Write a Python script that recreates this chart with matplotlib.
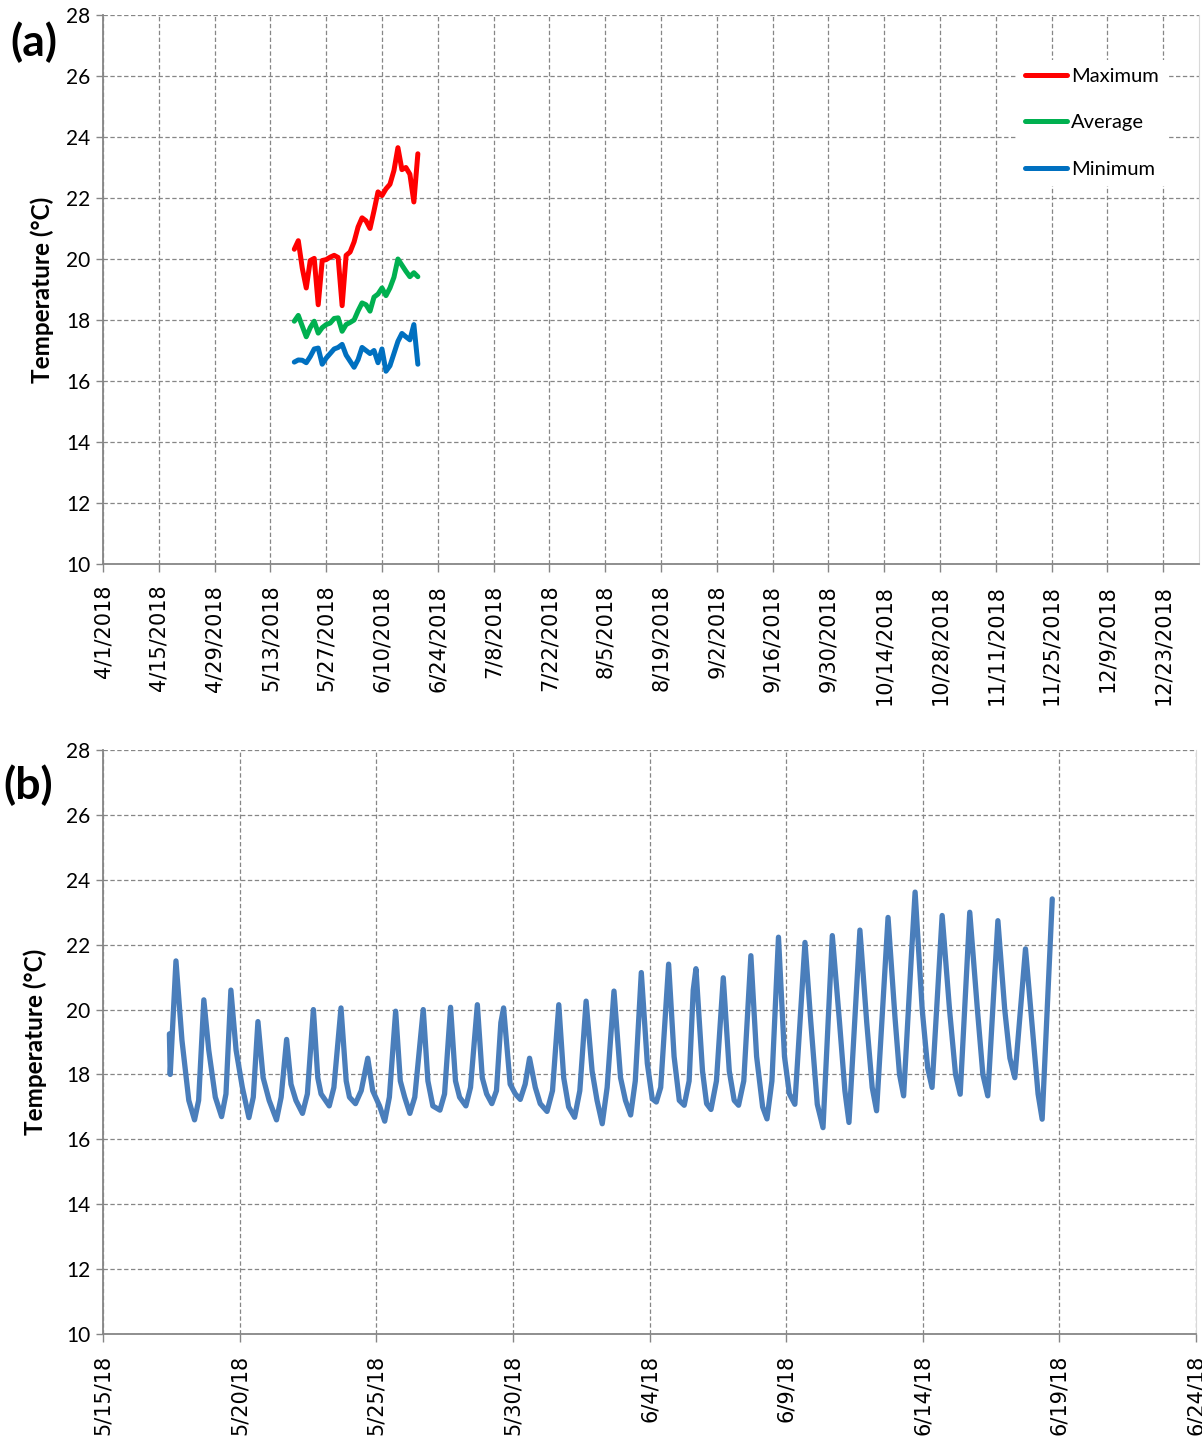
import numpy as np
import pandas as pd
import matplotlib
matplotlib.use('Agg')
import matplotlib.pyplot as plt

#%% data - panel (a): daily statistics 5/19/2018 .. 6/19/2018
daily_start = '2018-05-19'
t_max = [20.32, 20.6, 19.7, 19.05, 19.95, 20.02, 18.5, 19.95, 19.98, 20.06, 20.12,
         20.05, 18.47, 20.12, 20.23, 20.56, 21.05, 21.35, 21.25, 21.0, 21.58, 22.2,
         22.08, 22.3, 22.45, 22.9, 23.65, 22.93, 23.0, 22.78, 21.87, 23.45]
t_avg = [17.96, 18.15, 17.8, 17.45, 17.75, 17.96, 17.57, 17.75, 17.85, 17.9, 18.05,
         18.07, 17.63, 17.85, 17.92, 18.0, 18.3, 18.56, 18.5, 18.29, 18.75, 18.85,
         19.05, 18.8, 19.05, 19.4, 20.0, 19.8, 19.6, 19.42, 19.55, 19.42]
t_min = [16.62, 16.69, 16.68, 16.6, 16.8, 17.05, 17.08, 16.55, 16.75, 16.9, 17.05,
         17.1, 17.2, 16.85, 16.65, 16.45, 16.7, 17.1, 17.0, 16.9, 17.0, 16.6, 17.05,
         16.32, 16.5, 16.9, 17.3, 17.56, 17.45, 17.35, 17.85, 16.55]

#%% data - panel (b): logged temperature, time in days after 5/15/2018 00:00
log_start = '2018-05-15'
log_day = [2.43, 2.46, 2.67, 2.89, 3.14, 3.35,
           3.50, 3.69, 3.87, 4.11, 4.34,
           4.50, 4.68, 4.87, 5.10, 5.34,
           5.50, 5.67, 5.86, 6.08, 6.35,
           6.52, 6.72, 6.88, 7.06, 7.30,
           7.48, 7.70, 7.86, 7.98, 8.28,
           8.45, 8.71, 8.90, 9.02, 9.24,
           9.45, 9.69, 9.87, 10.12, 10.31,
           10.48, 10.71, 10.88, 11.04, 11.23,
           11.41, 11.72, 11.89, 12.07, 12.33,
           12.50, 12.72, 12.90, 13.05, 13.28,
           13.45, 13.70, 13.88, 14.04, 14.23,
           14.40, 14.56, 14.66, 14.90, 15.09, 15.27,
           15.45, 15.61, 15.82, 16.00, 16.25,
           16.45, 16.68, 16.86, 17.04, 17.26,
           17.45, 17.68, 17.90, 18.08, 18.27,
           18.45, 18.70, 18.94, 19.12, 19.31,
           19.48, 19.70, 19.92, 20.10, 20.25,
           20.41, 20.70, 20.90, 21.09, 21.27,
           21.45, 21.60, 21.70, 21.94, 22.09, 22.25,
           22.45, 22.70, 22.92, 23.10, 23.26,
           23.45, 23.71, 23.92, 24.14, 24.30,
           24.48, 24.72, 24.94, 25.12, 25.32,
           25.69, 25.90, 26.14, 26.35,
           26.69, 26.95, 27.15, 27.30,
           27.70, 27.95, 28.15, 28.31,
           28.73, 28.98, 29.15, 29.30,
           29.58, 29.72, 29.98, 30.18, 30.34,
           30.71, 30.98, 31.20, 31.37,
           31.72, 32.00, 32.20, 32.38,
           32.75, 33.00, 33.19, 33.37,
           33.76, 34.04, 34.22, 34.37,
           34.74]
log_temp = [19.25, 18.0, 21.5, 19.05, 17.2, 16.6,
            17.2, 20.3, 18.75, 17.3, 16.7,
            17.4, 20.6, 18.75, 17.6, 16.67,
            17.3, 19.63, 17.9, 17.2, 16.6,
            17.3, 19.08, 17.7, 17.2, 16.8,
            17.4, 20.0, 17.9, 17.4, 17.03,
            17.6, 20.05, 17.8, 17.3, 17.1,
            17.5, 18.5, 17.5, 17.03, 16.56,
            17.3, 19.95, 17.8, 17.3, 16.8,
            17.3, 20.0, 17.8, 17.03, 16.9,
            17.4, 20.07, 17.8, 17.3, 17.03,
            17.6, 20.15, 17.9, 17.4, 17.1,
            17.5, 19.6, 20.05, 17.7, 17.4, 17.23,
            17.7, 18.5, 17.6, 17.1, 16.86,
            17.5, 20.15, 17.9, 17.0, 16.68,
            17.5, 20.26, 18.1, 17.2, 16.48,
            17.6, 20.57, 17.9, 17.2, 16.75,
            17.8, 21.14, 18.34, 17.25, 17.15,
            17.6, 21.4, 18.55, 17.2, 17.05,
            17.8, 20.6, 21.26, 18.1, 17.1, 16.92,
            17.8, 20.98, 18.1, 17.2, 17.05,
            17.8, 21.66, 18.55, 17.0, 16.63,
            17.8, 22.23, 18.55, 17.4, 17.08,
            22.07, 19.65, 17.08, 16.36,
            22.28, 19.65, 17.5, 16.52,
            22.45, 19.6, 17.6, 16.88,
            22.84, 19.8, 18.0, 17.34,
            21.6, 23.62, 20.0, 18.2, 17.6,
            22.9, 20.0, 18.0, 17.39,
            23.0, 20.0, 18.0, 17.34,
            22.74, 20.0, 18.5, 17.9,
            21.87, 19.14, 17.4, 16.62,
            23.41]

#%% style helpers
grid_col = '#868686'
label_font = 'Lato'

def style_axes(ax, ticks, labels):
    ax.set_ylim(10, 28)
    ax.set_yticks(range(10, 29, 2))
    ax.set_xticks(ticks)
    ax.set_xticklabels(labels, rotation=90, fontsize=15, family='DejaVu Sans')
    ax.grid(True, color=grid_col, lw=0.9, ls=(0, (3.5, 2)))
    ax.set_axisbelow(True)
    for s in ['left', 'bottom']:
        ax.spines[s].set_color(grid_col)
        ax.spines[s].set_linewidth(1.3)
    ax.spines['top'].set_visible(False)
    ax.spines['right'].set_color('#d9d9d9')
    ax.tick_params(axis='x', direction='out', length=6, color=grid_col, width=1, pad=9)
    ax.tick_params(axis='y', direction='out', length=5, color=grid_col, width=1, pad=4,
                   labelsize=15)
    for t in ax.get_yticklabels():
        t.set_family(label_font)
    ax.set_ylabel('Temperature (\u00b0C)', fontsize=17.5, fontweight='bold', family=label_font)

#%% figure
fig = plt.figure(figsize=(12.02, 14.42), dpi=100)
ax1 = fig.add_axes([103/1202, 1-564/1442, 1096/1202, 549/1442])
ax2 = fig.add_axes([103/1202, 1-1334/1442, 1093/1202, 584/1442])

# panel (a)
days = pd.date_range(daily_start, periods=len(t_max), freq='D')
ax1.plot(days, t_max, color='#ff0000', lw=3.6, label='Maximum', solid_joinstyle='round',
         solid_capstyle='round')
ax1.plot(days, t_avg, color='#00b050', lw=3.6, label='Average', solid_joinstyle='round',
         solid_capstyle='round')
ax1.plot(days, t_min, color='#0070c0', lw=3.6, label='Minimum', solid_joinstyle='round',
         solid_capstyle='round')
ticks_a = pd.date_range('2018-04-01', '2018-12-23', freq='14D')
style_axes(ax1, ticks_a, [f'{d.month}/{d.day}/{d.year}' for d in ticks_a])
ax1.set_xlim(pd.Timestamp('2018-04-01'), pd.Timestamp('2019-01-01'))
ax1.yaxis.set_label_coords((54-103)/1096, 0.5)
leg = ax1.legend(loc='upper left', bbox_to_anchor=(1017/1202, 1-60/1442),
                 bbox_transform=fig.transFigure, frameon=True, fancybox=False,
                 edgecolor='none', facecolor='white', framealpha=1,
                 prop={'family': label_font, 'size': 14.5}, handlelength=2.1,
                 handletextpad=0.2, labelspacing=1.45, borderaxespad=0, borderpad=0.4)

# panel (b)
times = pd.Timestamp(log_start) + pd.to_timedelta(log_day, unit='D')
ax2.plot(times, log_temp, color='#4a7ebb', lw=3.8, solid_joinstyle='round',
         solid_capstyle='round')
ticks_b = pd.date_range('2018-05-15', '2018-06-24', freq='5D')
style_axes(ax2, ticks_b, [f'{d.month}/{d.day}/{d.strftime("%y")}' for d in ticks_b])
ax2.set_xlim(pd.Timestamp('2018-05-15'), pd.Timestamp('2018-06-24'))
ax2.yaxis.set_label_coords((47-103)/1093, 0.5)

fig.text(34/1202, 1-42/1442, '(a)', ha='center', va='center', fontsize=32,
         fontweight='bold', family=label_font)
fig.text(28/1202, 1-785/1442, '(b)', ha='center', va='center', fontsize=32,
         fontweight='bold', family=label_font)

fig.savefig('out.png', dpi=100)
